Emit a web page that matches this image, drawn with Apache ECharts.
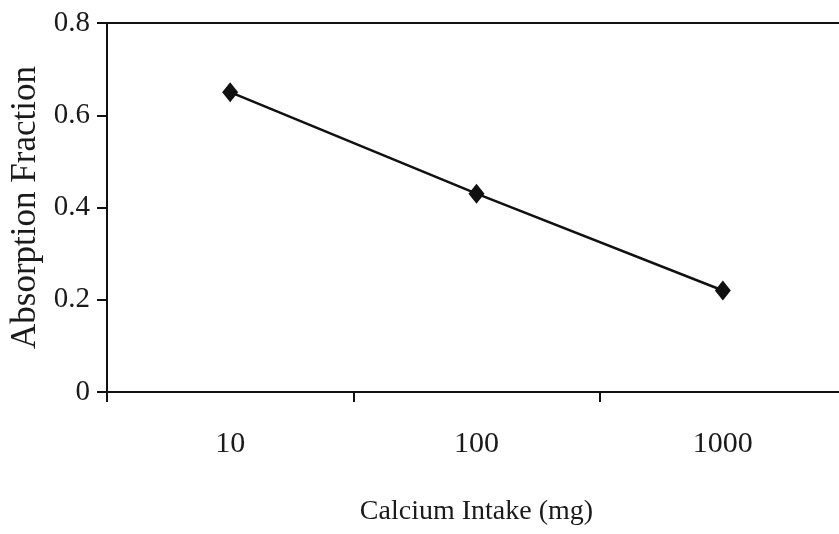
<!DOCTYPE html>
<html><head><meta charset="utf-8">
<script src="https://cdn.jsdelivr.net/npm/echarts@6/dist/echarts.min.js"></script>
<style>html,body{margin:0;padding:0;background:#fff}#c{width:839px;height:534px}</style>
</head><body><div id="c"></div>
<script>
const categories = ['10', '100', '1000'];
const absorption = [0.65, 0.43, 0.22];
const yTicks = { min: 0, max: 0.8, interval: 0.2 };

const font = '"Liberation Serif", "Times New Roman", serif';
const chart = echarts.init(document.getElementById('c'), null, { renderer: 'canvas' });
chart.setOption({
  animation: false,
  backgroundColor: '#fff',
  grid: { left: 107, width: 739, top: 23, height: 369, containLabel: false, outerBoundsMode: 'none' },
  xAxis: [{
    type: 'category', data: categories, position: 'bottom', boundaryGap: true,
    name: 'Calcium Intake (mg)', nameLocation: 'middle', nameGap: 106,
    nameTextStyle: { fontFamily: font, fontSize: 28, color: '#1a1a1a' },
    axisLine: { lineStyle: { color: '#111', width: 2 } },
    axisTick: { show: true, length: 10, inside: false, lineStyle: { color: '#111', width: 2 } },
    axisLabel: { fontFamily: font, fontSize: 30, color: '#1a1a1a', margin: 37 },
    splitLine: { show: false }
  }, {
    type: 'category', data: categories, position: 'top', boundaryGap: true,
    axisLine: { show: true, lineStyle: { color: '#111', width: 2 } },
    axisTick: { show: false }, axisLabel: { show: false }, splitLine: { show: false }
  }],
  yAxis: {
    type: 'value', min: yTicks.min, max: yTicks.max, interval: yTicks.interval,
    name: 'Absorption Fraction', nameLocation: 'middle', nameGap: 54, nameRotate: 90,
    nameTextStyle: { fontFamily: font, fontSize: 35, color: '#1a1a1a' },
    axisLine: { show: true, lineStyle: { color: '#111', width: 2 } },
    axisTick: { show: true, length: 10, lineStyle: { color: '#111', width: 2 } },
    axisLabel: { fontFamily: font, fontSize: 29, color: '#1a1a1a', margin: 17,
      formatter: v => (v === 0 ? '0' : v.toFixed(1)) },
    splitLine: { show: false }
  },
  series: [{
    type: 'line', data: absorption, xAxisIndex: 0,
    symbol: 'diamond', symbolSize: [16, 20],
    lineStyle: { color: '#111', width: 2.5 },
    itemStyle: { color: '#111' }
  }]
});
</script></body></html>
